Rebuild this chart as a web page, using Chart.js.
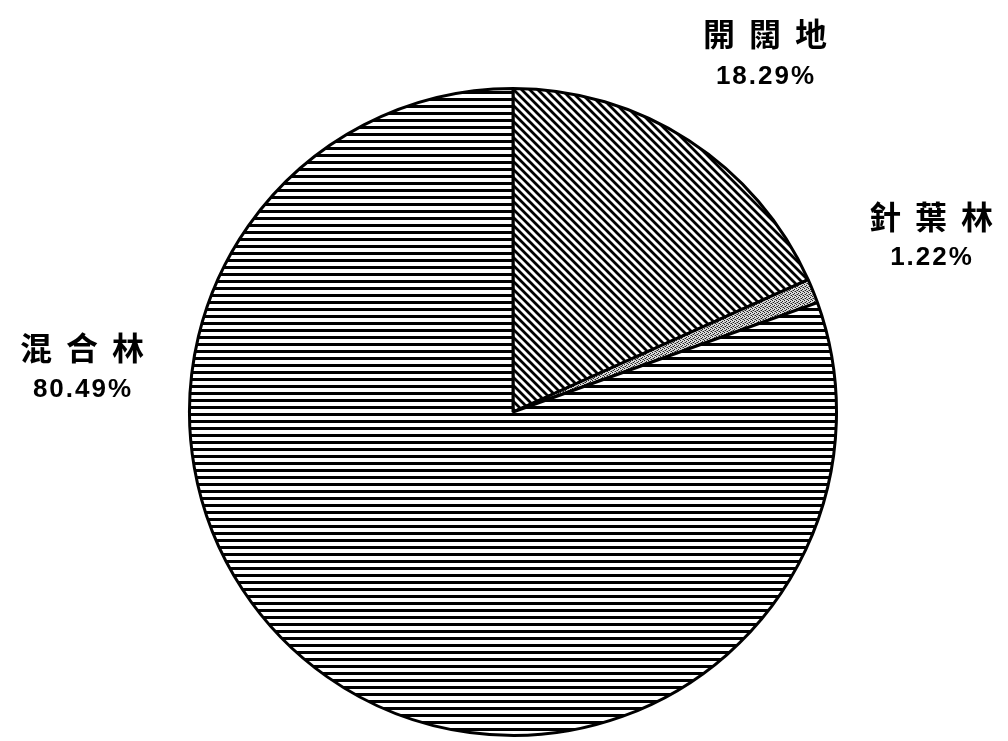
<!DOCTYPE html>
<html>
<head>
<meta charset="utf-8">
<script src="https://cdn.jsdelivr.net/npm/chart.js@4/dist/chart.umd.min.js"></script>
<style>
  html, body { margin: 0; padding: 0; background: #fff; }
  canvas { display: block; }
</style>
</head>
<body>
<canvas id="landPie" width="1008" height="741"></canvas>
<script>
// land cover shares, clockwise from 12 o'clock
const categories = ['開闊地', '針葉林', '混合林'];
const shares = [18.29, 1.22, 80.49];
const shareLabels = ['18.29%', '1.22%', '80.49%'];

// label text centres (name line, percent line)
const labelSpots = [
    { x: 765, y: 34, py: 77 },
    { x: 931, y: 217, py: 258 },
    { x: 82, y: 348, py: 390 }
];

function makePattern(kind) {
    const c = document.createElement('canvas');
    const g = c.getContext('2d');
    if (kind === 'diag') {
        c.width = 8; c.height = 8;
        g.fillStyle = '#fff';
        g.fillRect(0, 0, 8, 8);
        g.strokeStyle = '#000';
        g.lineWidth = 2.8;
        g.beginPath();
        g.moveTo(-2, -2); g.lineTo(10, 10);
        g.moveTo(-10, -2); g.lineTo(2, 10);
        g.moveTo(6, -2); g.lineTo(18, 10);
        g.stroke();
    } else if (kind === 'horiz') {
        c.width = 8; c.height = 7;
        g.fillStyle = '#fff';
        g.fillRect(0, 0, 8, 7);
        g.fillStyle = '#000';
        g.fillRect(0, 0, 8, 3);
    } else {
        c.width = 4; c.height = 4;
        g.fillStyle = '#d8d8d8';
        g.fillRect(0, 0, 4, 4);
        g.fillStyle = '#222';
        g.fillRect(0, 0, 1, 1);
        g.fillRect(2, 1, 1, 1);
        g.fillRect(1, 2, 1, 1);
        g.fillRect(3, 3, 1, 1);
        g.fillStyle = '#888';
        g.fillRect(2, 3, 1, 1);
        g.fillRect(0, 2, 1, 1);
    }
    return g.createPattern(c, 'repeat');
}

const outsideLabels = {
    id: 'outsideLabels',
    afterDraw(chart) {
        const ctx = chart.ctx;
        ctx.save();
        ctx.fillStyle = '#000';
        ctx.textAlign = 'center';
        ctx.textBaseline = 'middle';
        categories.forEach((name, i) => {
            const s = labelSpots[i];
            ctx.font = 'bold 32px "Noto Sans CJK TC"';
            ctx.letterSpacing = '14px';
            ctx.fillText(name, s.x + 7, s.y);
            ctx.font = 'bold 26px "Liberation Sans"';
            ctx.letterSpacing = '2px';
            ctx.fillText(shareLabels[i], s.x + 1, s.py);
        });
        ctx.restore();
    }
};

const ctx = document.getElementById('landPie').getContext('2d');
new Chart(ctx, {
    type: 'pie',
    data: {
        labels: categories,
        datasets: [{
            data: shares,
            backgroundColor: [makePattern('diag'), makePattern('dots'), makePattern('horiz')],
            borderColor: '#000',
            borderWidth: 3
        }]
    },
    options: {
        responsive: false,
        animation: false,
        layout: { padding: { left: 188, right: 170, top: 87, bottom: 4 } },
        plugins: {
            legend: { display: false },
            tooltip: { enabled: false }
        }
    },
    plugins: [outsideLabels]
});
</script>
</body>
</html>
